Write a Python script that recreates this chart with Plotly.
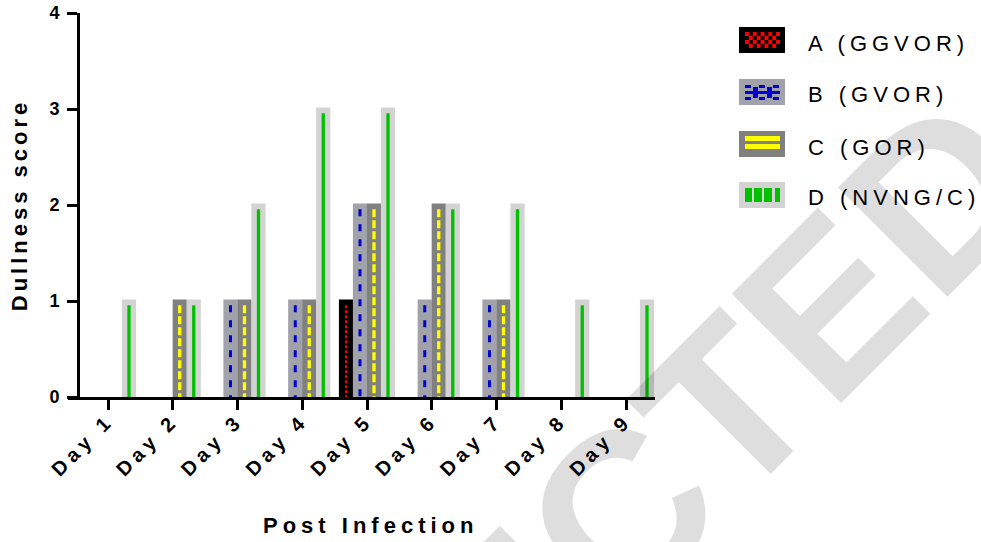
import plotly.graph_objects as go

# ---- data -------------------------------------------------------------
days = ["Day 1", "Day 2", "Day 3", "Day 4", "Day 5", "Day 6", "Day 7", "Day 8", "Day 9"]
series_names = ["A (GGVOR)", "B (GVOR)", "C (GOR)", "D (NVNG/C)"]
score_a = [0, 0, 0, 0, 1, 0, 0, 0, 0]
score_b = [0, 0, 1, 1, 2, 1, 1, 0, 0]
score_c = [0, 1, 1, 1, 2, 2, 1, 0, 0]
score_d = [1, 1, 2, 3, 3, 2, 2, 1, 1]
y_ticks = [0, 1, 2, 3, 4]

# ---- styling ----------------------------------------------------------
W, H = 981, 542
FONT = "Liberation Sans"
bar_fill = ["#000000", "#a2a2aa", "#808080", "#d3d3d3"]
stripe_color = ["#ff0000", "#0000d0", "#ffff00", "#00c000"]
stripe_width = [2, 3, 3.3, 3.3]
stripe_dash = ["3px,2px", "7px,8px", "8px,3px", "solid"]
BARGAP = 0.135
GROUPGAP = 0.2
N_SERIES = 4
slot = (1 - BARGAP) / N_SERIES
stripe_inset = 0.045

# plot area in pixels
PX_L, PX_R, PX_T, PX_B = 68, 655, 13, 397
YAX_PX = 78
day_step = 64.75
first_day_px = 108


def px_x(px):
    return px / W


def px_y(py):
    return 1 - py / H


def spaced(text, sp):
    return f'<span style="letter-spacing:{sp}px">{text}</span>'


fig = go.Figure()
idx = list(range(len(days)))
all_scores = [score_a, score_b, score_c, score_d]

for k, (name, vals) in enumerate(zip(series_names, all_scores)):
    fig.add_trace(go.Bar(
        x=idx, y=vals, name=name, showlegend=False,
        marker=dict(color=bar_fill[k],
                    line=dict(color=bar_fill[k], width=[3 if v > 0 else 0 for v in vals])),
        hoverinfo="skip",
    ))

# centre stripe drawn down each bar
for k, vals in enumerate(all_scores):
    xs, ys = [], []
    for i, v in zip(idx, vals):
        if v > 0:
            xc = i + (k - (N_SERIES - 1) / 2) * slot
            xs += [xc, xc, None]
            ys += [v - stripe_inset, 0, None]
    fig.add_trace(go.Scatter(
        x=xs, y=ys, mode="lines", showlegend=False, hoverinfo="skip",
        line=dict(color=stripe_color[k], width=stripe_width[k], dash=stripe_dash[k]),
    ))

x_lo = (PX_L - first_day_px) / day_step
x_hi = (PX_R - first_day_px) / day_step

fig.update_layout(
    width=W, height=H, template="none",
    margin=dict(l=0, r=0, t=0, b=0),
    paper_bgcolor="white", plot_bgcolor="rgba(0,0,0,0)",
    barmode="group", bargap=BARGAP, bargroupgap=GROUPGAP,
    font=dict(family=FONT, color="black"),
    xaxis=dict(
        domain=[px_x(PX_L), px_x(PX_R)], range=[x_lo, x_hi],
        tickvals=idx, ticktext=[spaced(d, 5) for d in days], tickangle=-45,
        ticks="outside", ticklen=10, tickwidth=3, tickcolor="black",
        showline=True, linewidth=3, linecolor="black",
        showgrid=False, zeroline=False, automargin=False,
        ticklabelstandoff=-9,
        tickfont=dict(family=FONT, size=20, weight="bold"),
    ),
    yaxis=dict(
        domain=[px_y(PX_B), px_y(PX_T)], range=[0, 4],
        anchor="free", position=px_x(YAX_PX),
        tickvals=y_ticks, ticktext=[str(t) for t in y_ticks],
        ticks="outside", ticklen=10, tickwidth=3, tickcolor="black",
        showline=True, linewidth=3, linecolor="black",
        showgrid=False, zeroline=False, automargin=False,
        ticklabelstandoff=4,
        tickfont=dict(family=FONT, size=18, weight="bold"),
        title=dict(text=spaced("Dullness score", 4), standoff=14,
                   font=dict(family=FONT, size=22, weight="bold")),
    ),
)

shapes = []
annotations = []

# x-axis title
annotations.append(dict(
    x=px_x(370), y=px_y(525), xref="paper", yref="paper",
    xanchor="center", yanchor="middle", showarrow=False,
    text=spaced("Post Infection", 5),
    font=dict(family=FONT, size=22, weight="bold", color="black"),
))

# ---- legend: patterned swatches + labels ------------------------------
sw_x0, sw_x1 = 739, 785
row_top = [27, 79, 131, 182]
sw_h = 26


def rect(x0, y0, x1, y1, color):
    shapes.append(dict(type="rect", xref="paper", yref="paper",
                       x0=px_x(x0), x1=px_x(x1), y0=px_y(y1), y1=px_y(y0),
                       fillcolor=color, line=dict(width=0)))


for k, name in enumerate(series_names):
    t = row_top[k]
    rect(sw_x0, t, sw_x1, t + sw_h, bar_fill[k])
    annotations.append(dict(
        x=px_x(806), y=px_y(t + sw_h / 2 + 3), xref="paper", yref="paper",
        xanchor="left", yanchor="middle", showarrow=False,
        text=spaced(name, 5), font=dict(family=FONT, size=22, color="black"),
    ))

# A: red checkerboard
t = row_top[0]
cols, rows = 9, 4
cw, ch = 35 / cols, 16 / rows
for r in range(rows):
    for c in range(cols):
        if (r + c) % 2 == 0:
            rect(745 + c * cw, t + 5 + r * ch, 745 + (c + 1) * cw, t + 5 + (r + 1) * ch, stripe_color[0])

# B: blue interlocking blocks
t = row_top[1]
rect(745, t + 12, 780, t + 15, stripe_color[1])
for c in range(5):
    x0 = 745 + c * 7
    if c % 2 == 0:
        rect(x0, t + 6, x0 + 6, t + 9, stripe_color[1])
        rect(x0, t + 18, x0 + 6, t + 21, stripe_color[1])
    else:
        rect(x0 + 1, t + 8, x0 + 6, t + 19, stripe_color[1])

# C: two yellow bands
t = row_top[2]
rect(745, t + 5, 780, t + 10, stripe_color[2])
rect(745, t + 13, 780, t + 18, stripe_color[2])

# D: green blocks
t = row_top[3]
for x0, x1 in [(745, 752), (754, 762), (764, 772), (775, 780)]:
    rect(x0, t + 6, x1, t + 20, stripe_color[3])

# watermark
annotations.append(dict(
    x=px_x(572), y=px_y(562), xref="paper", yref="paper",
    xanchor="center", yanchor="middle", showarrow=False, textangle=-45,
    text="REJECTED",
    font=dict(family="Liberation Sans", size=225, weight="bold",
              color="rgba(0,0,0,0.13)"),
))

fig.update_layout(shapes=shapes, annotations=annotations)
fig.write_html("out.html")
